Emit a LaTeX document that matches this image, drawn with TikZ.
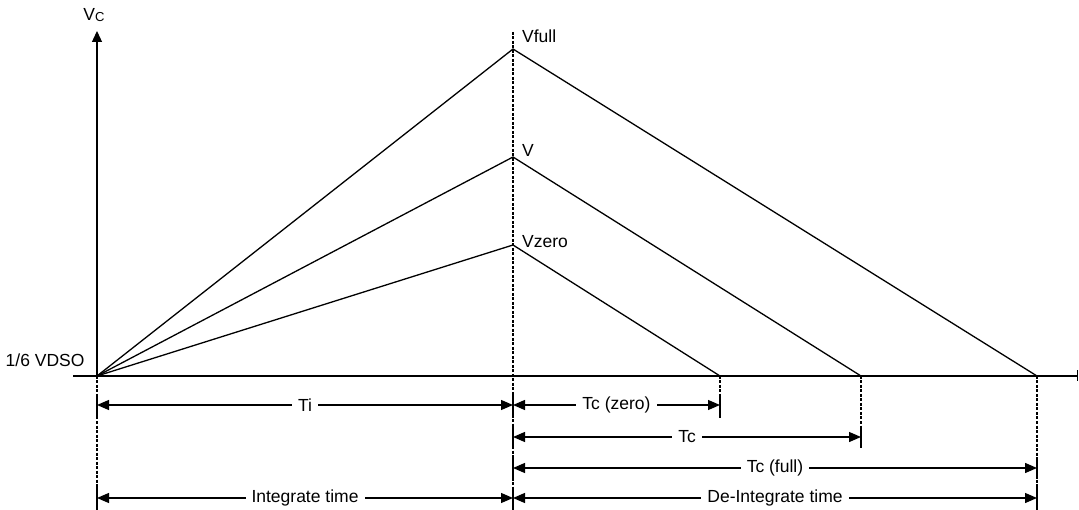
\documentclass[tikz,border=0pt]{standalone}
\usepackage{fontspec}
\setmainfont{Liberation Sans}
\usetikzlibrary{arrows.meta}
\tikzset{
  axisline/.style={line width=1.3pt},
  ramp/.style={line width=1.3pt},
  guide/.style={line width=1.1pt, dash pattern=on 3pt off 1.5pt},
  dimline/.style={line width=1.3pt, {Triangle[length=12pt,width=10pt]}-{Triangle[length=12pt,width=10pt]}},
  dimtick/.style={line width=1.2pt},
  dimlabel/.style={fill=white, inner xsep=6pt, inner ysep=1pt},
  peaklabel/.style={anchor=west, inner sep=0pt}
}
\begin{document}
\begin{tikzpicture}[x=1pt, y=-1pt, font=\fontsize{17.5}{20}\selectfont]
			%%%%% START %%%%%
			\useasboundingbox (0, 0) rectangle (1079, 510);
			
			% points of the ramps
			\coordinate (O) at (97, 376);
			\coordinate (Pf) at (513, 49);
			\coordinate (Pv) at (513, 157);
			\coordinate (Pz) at (513, 245);
			\coordinate (Ez) at (720, 376);
			\coordinate (Ev) at (861, 376);
			\coordinate (Ef) at (1037, 376);
			
			% axes
			\draw[axisline, -{Triangle[length=11pt,width=10pt]}] (O) -- (97, 31);
			\draw[axisline, -{Bar[width=11pt]}] (73, 376) -- (1078, 376);
			\node (vc) at (94, 15) {V\raisebox{-0.15ex}{\fontsize{13}{14}\selectfont C}};
			\node[anchor=east] (vdso) at (88, 360) {1/6 VDSO};
			
			% guide lines
			\draw[guide] (513, 32) -- (513, 510);
			\draw[guide] (O) -- (97, 510);
			\draw[guide] (Ez) -- (720, 418);
			\draw[guide] (Ev) -- (861, 447);
			\draw[guide] (Ef) -- (1037, 510);
			
			% ramps
			\draw[ramp] (O) -- (Pf) -- (Ef);
			\draw[ramp] (O) -- (Pv) -- (Ev);
			\draw[ramp] (O) -- (Pz) -- (Ez);
			\node[peaklabel] (vfull) at (522, 36) {Vfull};
			\node[peaklabel] (vmid) at (522, 150) {V};
			\node[peaklabel] (vzero) at (522, 242) {Vzero};
			
			% end ticks
			\foreach \x/\y in {97/405, 513/405, 720/405, 513/437, 861/437, 513/468, 1037/468, 97/498, 513/498, 1037/498}
				\draw[dimtick] (\x, \y-11) -- (\x, \y+11);
			
			% times
			\draw[dimline] (97, 405) -- node[dimlabel] {Ti} (513, 405);
			\draw[dimline] (513, 405) -- node[dimlabel] {Tc (zero)} (720, 405);
			\draw[dimline] (513, 437) -- node[dimlabel] {Tc} (861, 437);
			\draw[dimline] (513, 468) -- node[dimlabel] {Tc (full)} (1037, 468);
			\draw[dimline] (97, 498) -- node[dimlabel] {Integrate time} (513, 498);
			\draw[dimline] (513, 498) -- node[dimlabel] {De-Integrate time} (1037, 498);
			
			%%%%% END %%%%%
\end{tikzpicture}
\end{document}
